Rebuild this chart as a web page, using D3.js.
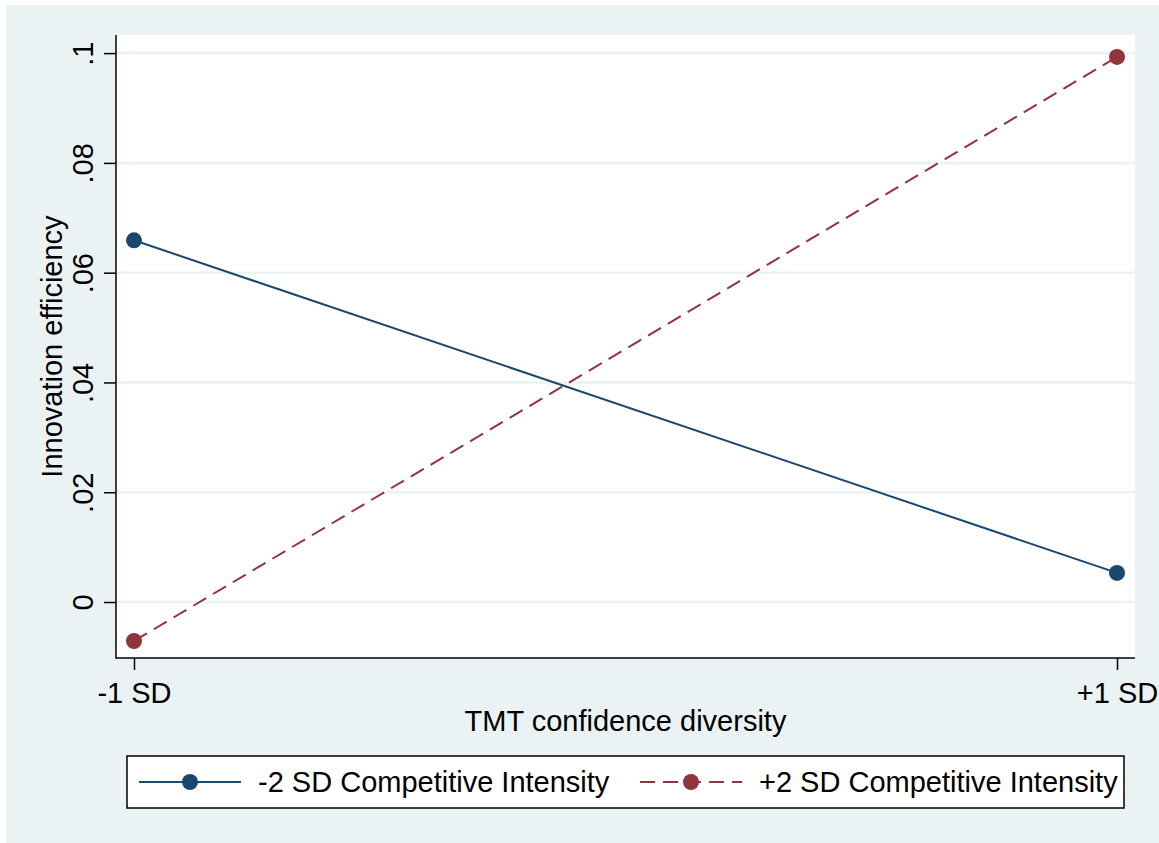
<!DOCTYPE html>
<html>
<head>
<meta charset="utf-8">
<script src="https://cdn.jsdelivr.net/npm/d3@7"></script>
<style>
  html, body { margin: 0; padding: 0; background: #ffffff; }
  svg { display: block; font-family: "Liberation Sans", Arial, sans-serif; }
</style>
</head>
<body>
<svg id="chart" width="1159" height="843"></svg>
<script>
// Margins of TMT confidence diversity at two levels of competitive intensity
const xCategories = ["-1 SD", "+1 SD"];
const xValues = [-1, 1];
const lowIntensity = [0.0659, 0.0053];   // -2 SD Competitive Intensity
const highIntensity = [-0.0071, 0.0993]; // +2 SD Competitive Intensity
const yTicks = [0, 0.02, 0.04, 0.06, 0.08, 0.1];
const yTickLabels = ["0", ".02", ".04", ".06", ".08", ".1"];
const seriesNames = ["-2 SD Competitive Intensity", "+2 SD Competitive Intensity"];

const bg = "#eaf2f3";
const navy = "#1a476f";
const maroon = "#90353b";
const fontSize = 29;

const svg = d3.select("#chart");

// outer graph region
svg.append("rect").attr("x", 6).attr("y", 5).attr("width", 1153).attr("height", 838).attr("fill", bg);

const plot = { left: 116, right: 1135, top: 35, bottom: 658 };

const x = d3.scaleLinear().domain([-1.0366, 1.0366]).range([plot.left, plot.right]);
const y = d3.scaleLinear().domain([-0.0102, 0.1033]).range([plot.bottom, plot.top]);

// plot region
svg.append("rect")
  .attr("x", plot.left).attr("y", plot.top)
  .attr("width", plot.right - plot.left).attr("height", plot.bottom - plot.top)
  .attr("fill", "#ffffff");

// horizontal grid lines
svg.append("g").selectAll("line").data(yTicks).join("line")
  .attr("x1", plot.left).attr("x2", plot.right)
  .attr("y1", d => y(d)).attr("y2", d => y(d))
  .attr("stroke", bg).attr("stroke-width", 2.5);

// y axis
const yAxis = svg.append("g")
  .attr("transform", `translate(${plot.left},0)`)
  .call(d3.axisLeft(y).tickValues(yTicks).tickFormat((d, i) => yTickLabels[i]).tickSize(12).tickSizeOuter(0));
yAxis.select(".domain").remove();
yAxis.append("line").attr("x1", 0).attr("x2", 0).attr("y1", plot.top).attr("y2", plot.bottom + 0.75)
  .attr("stroke", "#000").attr("stroke-width", 1.5);
yAxis.selectAll(".tick line").attr("stroke", "#000").attr("stroke-width", 1.5);
yAxis.selectAll(".tick text")
  .attr("font-size", fontSize).attr("fill", "#000")
  .attr("font-family", "Liberation Sans, Arial, sans-serif")
  .attr("x", null).attr("dy", null)
  .attr("text-anchor", "middle")
  .attr("transform", "translate(-23,0) rotate(-90)");

// x axis
const xAxis = svg.append("g")
  .attr("transform", `translate(0,${plot.bottom})`)
  .call(d3.axisBottom(x).tickValues(xValues).tickFormat((d, i) => xCategories[i]).tickSize(12).tickSizeOuter(0));
xAxis.select(".domain").remove();
xAxis.append("line").attr("x1", plot.left).attr("x2", plot.right).attr("y1", 0).attr("y2", 0)
  .attr("stroke", "#000").attr("stroke-width", 1.5);
xAxis.selectAll(".tick line").attr("stroke", "#000").attr("stroke-width", 1.5);
xAxis.selectAll(".tick text")
  .attr("font-size", fontSize).attr("fill", "#000")
  .attr("font-family", "Liberation Sans, Arial, sans-serif")
  .attr("y", 45).attr("dy", null);

// axis titles
svg.append("text")
  .attr("x", (plot.left + plot.right) / 2).attr("y", 731)
  .attr("text-anchor", "middle").attr("font-size", fontSize).attr("fill", "#000")
  .text("TMT confidence diversity");
svg.append("text")
  .attr("transform", `translate(62,${(plot.top + plot.bottom) / 2}) rotate(-90)`)
  .attr("text-anchor", "middle").attr("font-size", fontSize).attr("fill", "#000")
  .text("Innovation efficiency");

// series
const series = [
  { values: lowIntensity, color: navy, dash: null },
  { values: highIntensity, color: maroon, dash: "15,8" }
];
const line = d3.line().x(d => x(d[0])).y(d => y(d[1]));

series.forEach(s => {
  const pts = xValues.map((xv, i) => [xv, s.values[i]]);
  svg.append("path").datum(pts)
    .attr("d", line).attr("fill", "none")
    .attr("stroke", s.color).attr("stroke-width", 2)
    .attr("stroke-dasharray", s.dash);
  svg.append("g").selectAll("circle").data(pts).join("circle")
    .attr("cx", d => x(d[0])).attr("cy", d => y(d[1]))
    .attr("r", 8).attr("fill", s.color);
});

// legend
const legend = svg.append("g");
legend.append("rect")
  .attr("x", 127).attr("y", 756).attr("width", 997).attr("height", 52)
  .attr("fill", "#fff").attr("stroke", "#000").attr("stroke-width", 1.5);

const legendItems = [
  { sx: 139, tx: 258 },
  { sx: 640, tx: 759 }
];
series.forEach((s, i) => {
  const it = legendItems[i];
  const ly = 782;
  legend.append("line")
    .attr("x1", it.sx).attr("x2", it.sx + 102).attr("y1", ly).attr("y2", ly)
    .attr("stroke", s.color).attr("stroke-width", 2)
    .attr("stroke-dasharray", s.dash);
  legend.append("circle").attr("cx", it.sx + 51).attr("cy", ly).attr("r", 8).attr("fill", s.color);
  legend.append("text")
    .attr("x", it.tx).attr("y", ly + 10)
    .attr("font-size", fontSize).attr("fill", "#000")
    .text(seriesNames[i]);
});
</script>
</body>
</html>
